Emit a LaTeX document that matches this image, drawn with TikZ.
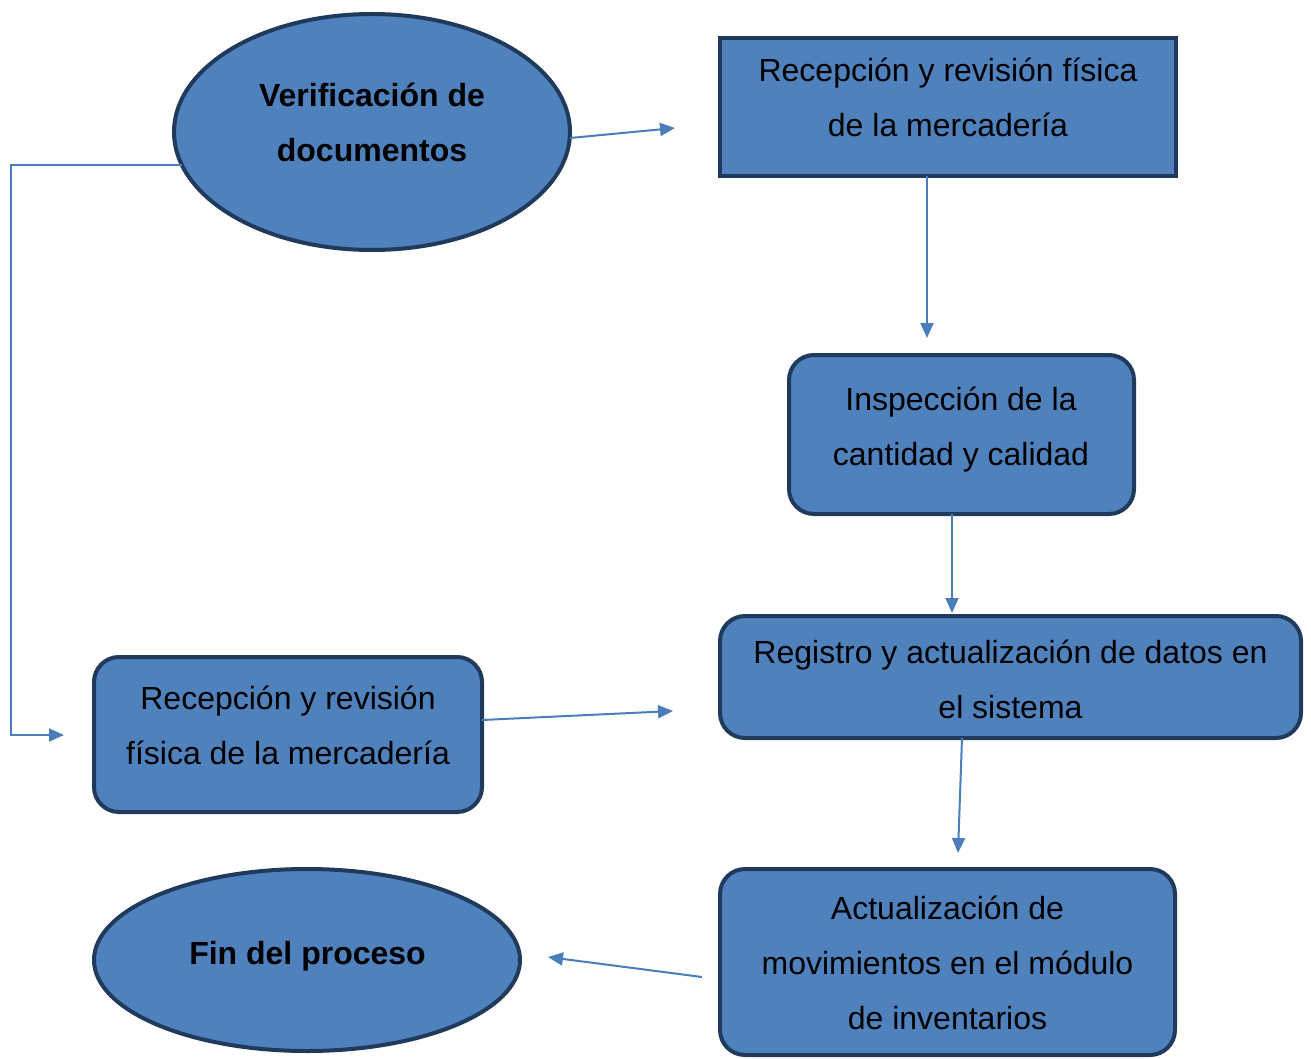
\documentclass[tikz,border=0pt]{standalone}
\usepackage{fontspec}
\setmainfont{Liberation Sans}
\usetikzlibrary{arrows.meta,shapes.geometric,calc}
\definecolor{boxfill}{HTML}{4F81BD}
\definecolor{boxline}{HTML}{1F3A5C}
\definecolor{arrcol}{HTML}{4A7EBB}
\begin{document}
\begin{tikzpicture}[x=1pt,y=-1pt,
  shapebase/.style={fill=boxfill,draw=boxline,line width=4pt,inner sep=0pt,outer sep=0pt},
  ell/.style={shapebase,ellipse},
  sqbox/.style={shapebase,rectangle},
  rbox/.style={shapebase,rectangle,rounded corners=25pt},
  txt/.style={font=\fontsize{32}{55}\selectfont,align=center,inner sep=0pt,text=black},
  btxt/.style={txt,font=\fontsize{32}{55}\selectfont\bfseries},
  arr/.style={draw=arrcol,line width=2pt,-{Triangle[length=15pt,width=13pt]}}]
\useasboundingbox (0,0) rectangle (1311,1059);

% shapes
\node[ell,minimum width=396pt,minimum height=236pt] (e1) at (372,132) {};
\node[sqbox,minimum width=456pt,minimum height=138pt] (r1) at (948,107) {};
\node[rbox,minimum width=345pt,minimum height=159pt] (r2) at (961.5,434.5) {};
\node[rbox,minimum width=581pt,minimum height=122pt] (r3) at (1010.5,677) {};
\node[rbox,minimum width=388pt,minimum height=155pt] (r4) at (288,734.5) {};
\node[rbox,minimum width=455pt,minimum height=186pt] (r5) at (947.5,962) {};
\node[ell,minimum width=426pt,minimum height=182pt] (e2) at (307,960) {};

% texts
\node[btxt] (t1) at (372,123.5) {\strut Verificación de\\\strut documentos};
\node[txt] (t2) at (948,98.5) {\strut Recepción y revisión física\\\strut de la mercadería};
\node[txt] (t3) at (961,426.5) {\strut Inspección de la\\\strut cantidad y calidad};
\node[txt] (t4) at (1010.5,679.5) {\strut Registro y actualización de datos en\\\strut el sistema};
\node[txt] (t5) at (288,725.5) {\strut Recepción y revisión\\\strut física de la mercadería};
\node[txt] (t6) at (947.5,963) {\strut Actualización de\\\strut movimientos en el módulo\\\strut de inventarios};
\node[btxt] (t7) at (307.5,953) {\strut Fin del proceso};

% free ends
\coordinate (a1) at (675,128);
\coordinate (a2) at (927,338);
\coordinate (a3) at (952,613);
\coordinate (a4) at (958,853);
\coordinate (a5) at (548,957);
\coordinate (a6) at (673,711);
\coordinate (k1) at (11,735);
\coordinate (a7) at (64,735);
\coordinate (s5) at (702,977);

% connectors
\draw[arr] ([yshift=-6pt]e1.east) -- (a1);
\draw[arr] ([xshift=-21pt]r1.south) -- (a2);
\draw[arr] ([xshift=-9.5pt]r2.south) -- (a3);
\draw[arr] ([xshift=-48.5pt]r3.south) -- (a4);
\draw[arr] (s5) -- (a5);
\draw[arr] ([yshift=14.5pt]r4.east) -- (a6);
\draw[arr] (e1.190) -| (k1) -- (a7);
\end{tikzpicture}
\end{document}
